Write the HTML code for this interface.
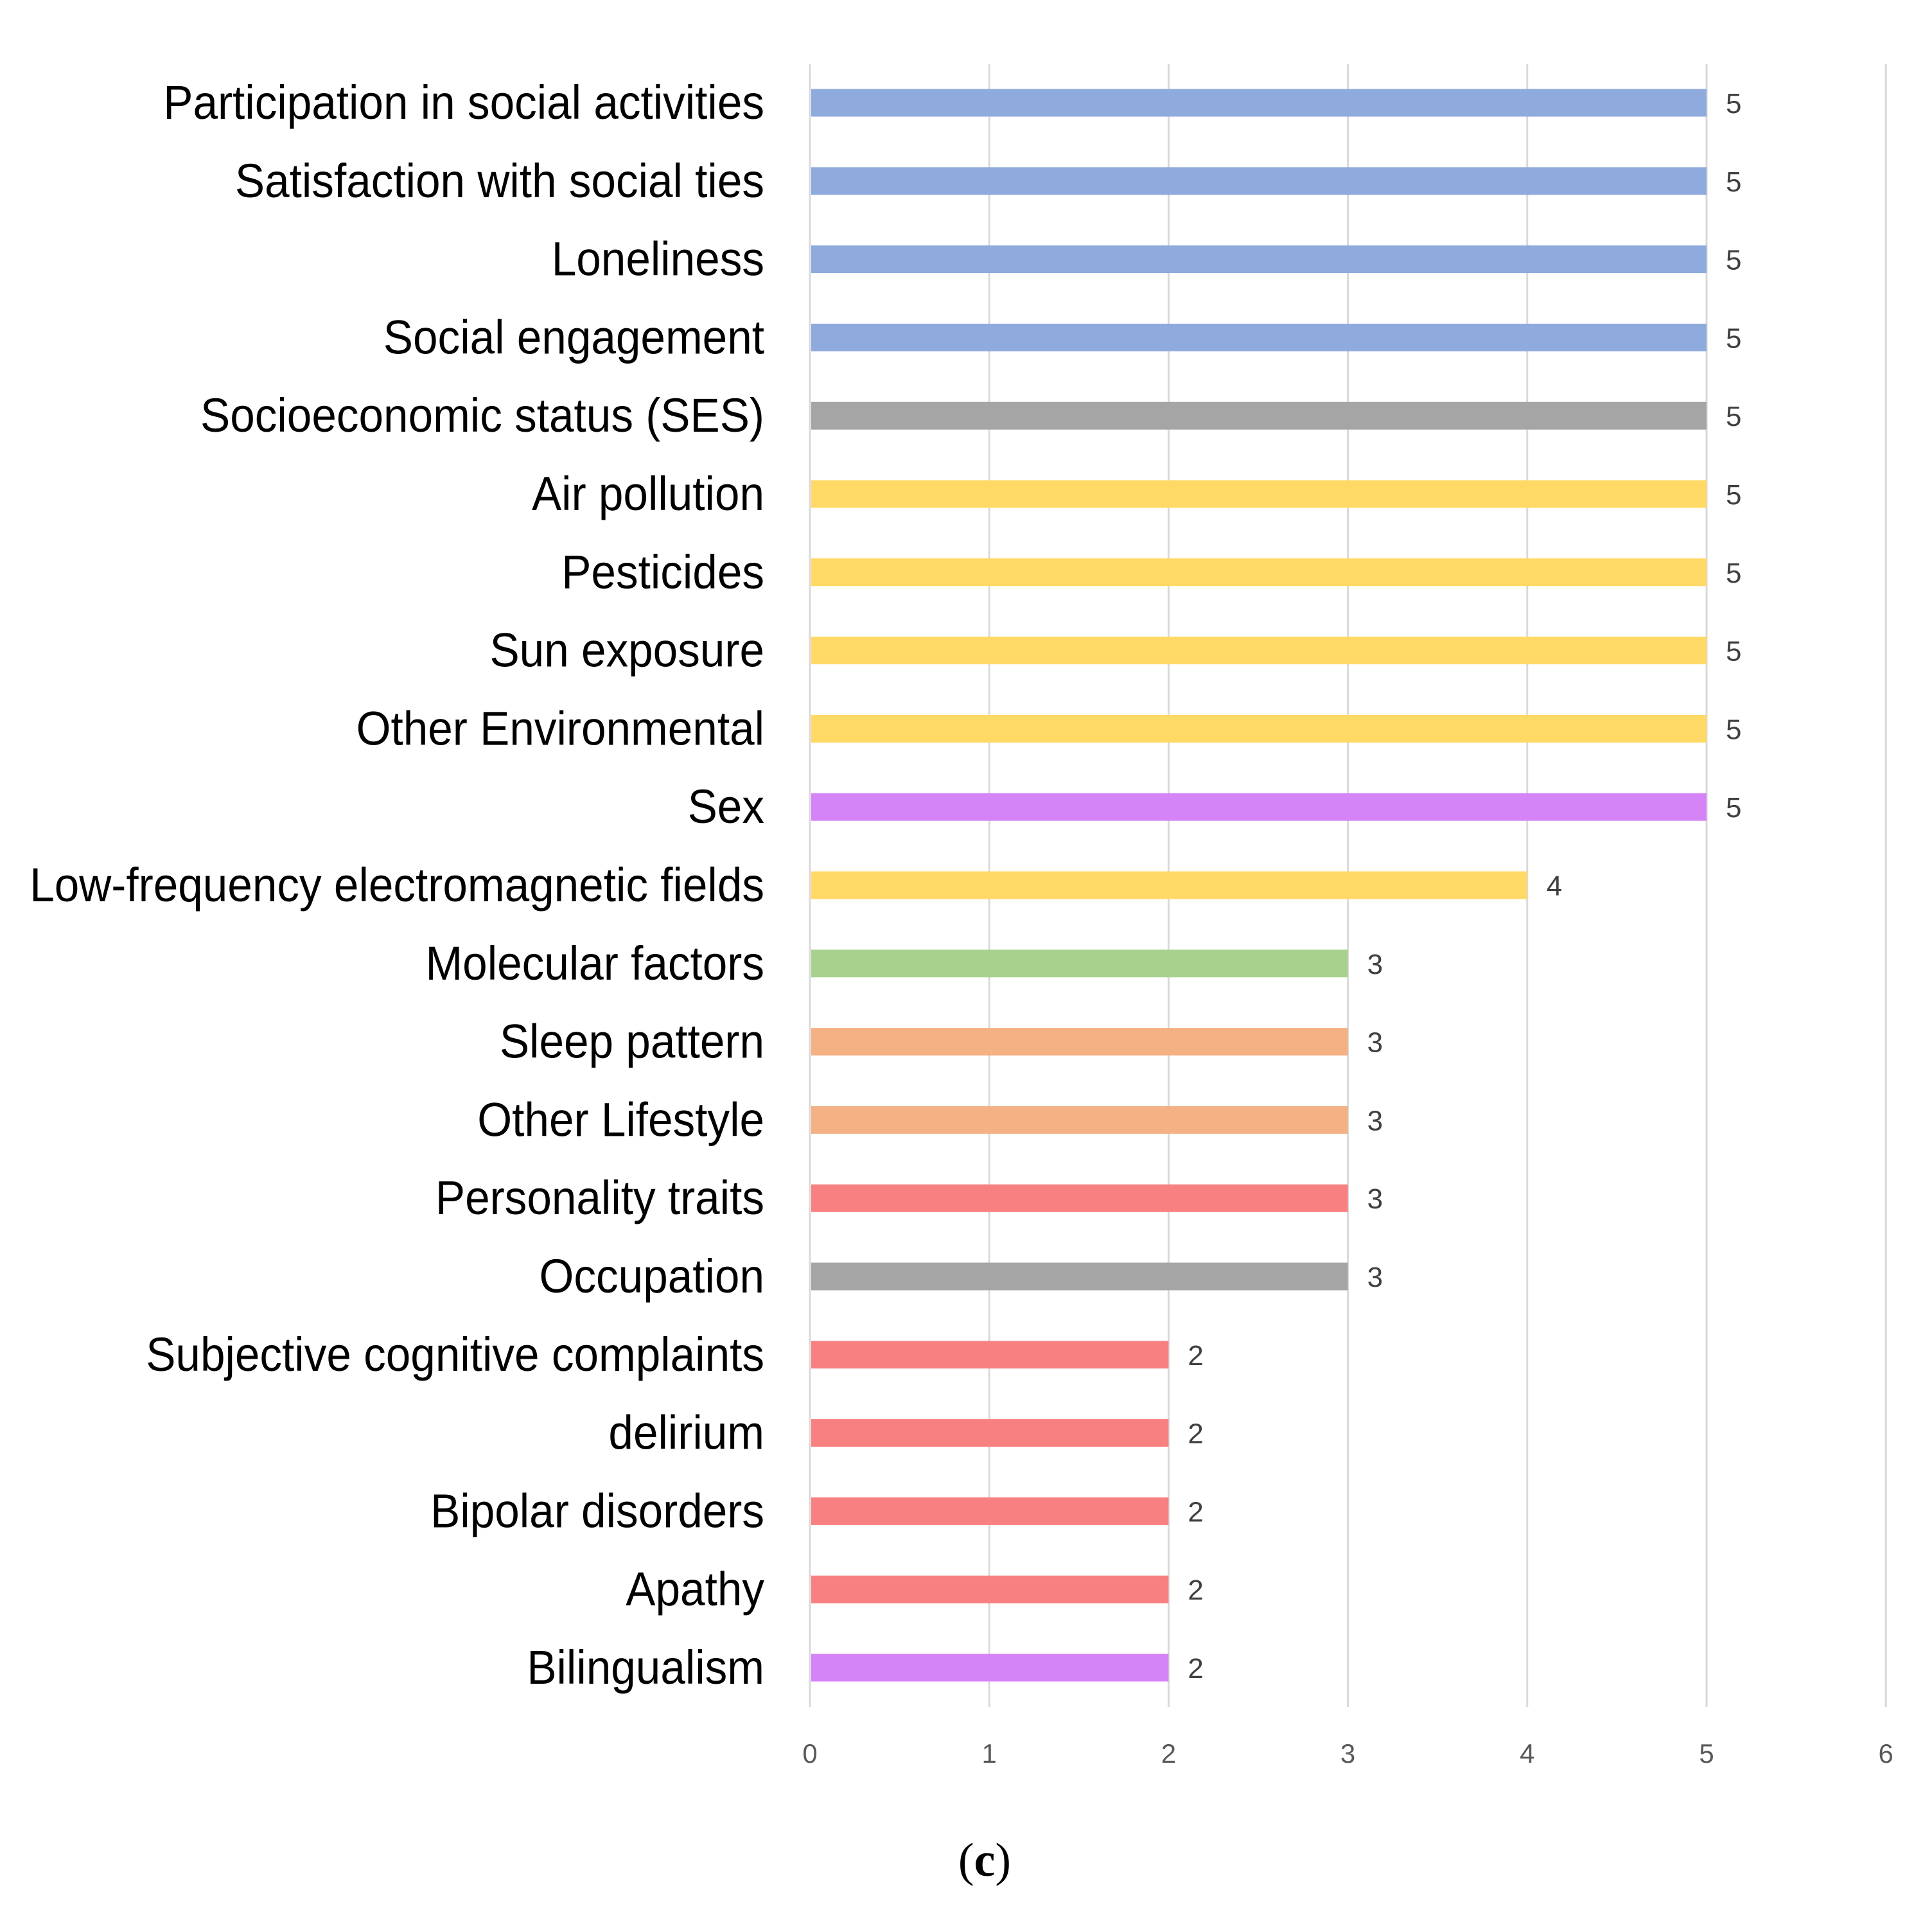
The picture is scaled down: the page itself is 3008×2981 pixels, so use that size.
<!DOCTYPE html>
<html><head><meta charset="utf-8"><style>
html,body{margin:0;padding:0;background:#fff;}
svg{display:block;}
</style></head><body>
<svg id="chart" width="3008" height="2981" viewBox="0 0 3008 2981" xmlns="http://www.w3.org/2000/svg">
<g id="grid"></g>
<g id="labels"></g>
<g id="bars"></g>
<g id="values"></g>
<g id="ticks"></g>
<text x="1533" y="2920" text-anchor="middle" font-family="Liberation Serif, serif" font-size="74" fill="#000">(<tspan font-weight="bold">c</tspan>)</text>
</svg>
<script>
const categories = ["Participation in social activities","Satisfaction with social ties","Loneliness","Social engagement","Socioeconomic status (SES)","Air pollution","Pesticides","Sun exposure","Other Environmental","Sex","Low-frequency electromagnetic fields","Molecular factors","Sleep pattern","Other Lifestyle","Personality traits","Occupation","Subjective cognitive complaints","delirium","Bipolar disorders","Apathy","Bilingualism"];
const values = [5,5,5,5,5,5,5,5,5,5,4,3,3,3,3,3,2,2,2,2,2];
const groups = ["social","social","social","social","socioeconomic","environmental","environmental","environmental","environmental","demographic","environmental","biological","lifestyle","lifestyle","psychological","socioeconomic","psychological","psychological","psychological","psychological","demographic"];
const tickLabels = [0,1,2,3,4,5,6];

const colorMap = {social:"#8faadc",socioeconomic:"#a5a5a5",environmental:"#ffd966",demographic:"#d584f8",biological:"#a9d18e",lifestyle:"#f4b183",psychological:"#f98080"};
const NS = "http://www.w3.org/2000/svg";
const x0 = 1261, unit = 279.2, yTop = 100, yBot = 2657, row0 = 160, rowStep = 121.8, barH = 43;
const xs = v => x0 + v * unit;
const ys = i => row0 + i * rowStep;
function mk(tag, attrs, parent){const e=document.createElementNS(NS,tag);for(const k in attrs)e.setAttribute(k,attrs[k]);parent.appendChild(e);return e;}

const grid = document.getElementById('grid');
const ticks = document.getElementById('ticks');
tickLabels.forEach(t=>{
  const l = mk('line',{x1:xs(t),x2:xs(t),y1:yTop,y2:yBot,stroke:'#d9d9d9','stroke-width':3},grid);
  
  
  const tx = mk('text',{x:xs(t),y:2744,'text-anchor':'middle','font-family':'Liberation Sans, sans-serif','font-size':42,fill:'#595959'},ticks);
  tx.textContent = t;
  
  
});

const labelsG = document.getElementById('labels');
const barsG = document.getElementById('bars');
const valsG = document.getElementById('values');
categories.forEach((c,i)=>{
  const cy = ys(i);
  const r = mk('rect',{x:xs(0)+2,y:cy-barH/2,width:xs(values[i])-xs(0)-2,height:barH,fill:colorMap[groups[i]]},barsG);
  
  
  const v = mk('text',{x:xs(values[i])+30,y:cy+16,'text-anchor':'start','font-family':'Liberation Sans, sans-serif','font-size':44,fill:'#404040'},valsG);
  v.textContent = values[i];
  
  
  const t = mk('text',{x:0,y:cy+25,'text-anchor':'end','font-family':'Liberation Sans, sans-serif','font-size':74,fill:'#000'},labelsG);
  t.textContent = c;
  
  
});
const first = labelsG.querySelector('text');
const w = first.getComputedTextLength() || 1100;
const sx = 936 / w;
labelsG.setAttribute('transform','translate(1190,0) scale('+sx+',1)');
</script>
</body></html>
